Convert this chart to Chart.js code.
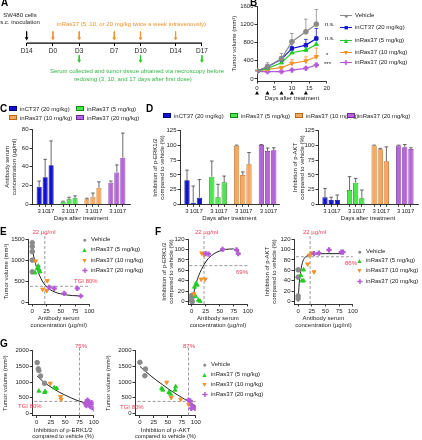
<!DOCTYPE html>
<html>
<head>
<meta charset="utf-8">
<script src="https://cdn.jsdelivr.net/npm/chart.js@4.4.0/dist/chart.umd.min.js"></script>
<style>
  body { margin: 0; width: 422px; height: 440px; overflow: hidden; background: #fff; position: relative;
         font-family: "Liberation Sans", Arial, sans-serif; font-size: 6px; color: #222; }
  canvas { position: absolute; }
  .t { position: absolute; white-space: nowrap; line-height: 7px; height: 7px; }
  .letter { position: absolute; font-weight: bold; font-size: 10px; line-height: 10px; color: #000; }
  .mk { display: inline-block; vertical-align: middle; text-align: center; margin-right: 3px; }
</style>
</head>
<body>
<script>
// ---------- data ----------
// A: study timeline
const timelineDays = [-3, 0, 3, 7, 10, 14, 17];
const timelineLabels = ['D14', 'D0', 'D3', 'D7', 'D10', 'D14', 'D17'];
const doseDays = [0, 3, 7, 10, 14];
const sampleDays = [3, 10, 17];

// B: tumor growth
const bDays = [0, 3, 7, 10, 14, 17];
const bVehicle = [175, 270, 445, 818, 1037, 1205];
const bVehicleErr = [15, 87, 118, 183, 278, 322];
const bInCT37 = [175, 270, 431, 672, 745, 891];
const bInCT37Err = [15, 20, 58, 154, 125, 220];
const bRas5 = [175, 234, 358, 577, 636, 760];
const bRas5Err = [15, 20, 40, 60, 65, 110];
const bRas10 = [175, 212, 248, 343, 395, 489];
const bRas10Err = [15, 15, 30, 80, 90, 190];
const bRas20 = [160, 160, 160, 197, 234, 307];
const bRas20Err = [10, 10, 15, 25, 30, 40];

// C / D: bars by group and day
const groups = ['inCT37 (20 mg/kg)', 'inRas37 (5 mg/kg)', 'inRas37 (10 mg/kg)', 'inRas37 (20 mg/kg)'];
const dayLabels = ['3', '10', '17'];
const cSerum = [[18.8, 28.8, 41.6], [2.8, 5.3, 6.4], [5.5, 8.1, 17.7], [23, 34, 49.7]];
const cSerumErr = [[6, 19.2, 26], [0.5, 2.2, 2.6], [1, 3.9, 6.3], [1.8, 8, 26.3]];
const dErk = [[40.8, 2.7, 11.2], [47, 11.8, 37.3], [99.5, 49.8, 67.9], [100.7, 90.5, 92]];
const dErkErr = [[17.2, 28.3, 30.8], [26.5, 22.2, 10.7], [1, 5.2, 20.1], [0.8, 5.1, 4]];
const dAkt = [[11.8, 7.3, 7.3], [24.3, 36.7, 10.2], [99.8, 93.4, 73], [100, 96.8, 94]];
const dAktErr = [[15.2, 4.7, 8.5], [22.7, 7.3, 14.1], [0.7, 1.6, 24.6], [0.5, 4.7, 2]];

// E: tumor volume vs serum concentration
const eVehicle = [[0, 1410], [0, 1320], [0, 1200], [0, 1000], [0, 720]];
const eRas5 = [[4.7, 700], [8.8, 805], [11.7, 780], [10.5, 860], [13.5, 726]];
const eRas10 = [[5.7, 980], [26.3, 512], [18.2, 308], [25.3, 275]];
const eRas20 = [[29.8, 355], [38.6, 332], [56, 213], [79, 332], [85, 150]];
const eFit = [[0, 1250], [5, 950], [10, 730], [15, 570], [20, 450], [25, 370], [30, 310], [40, 240], [50, 200], [60, 175], [70, 160], [85, 150]];

// F: pathway inhibition vs serum concentration
const fErkVehicle = [[0, 12], [0, 6], [0, 2], [1, 0]];
const fErkRas5 = [[5, 28], [8, 35], [10, 32], [7, 10], [12, 3], [15, 1]];
const fErkRas10 = [[18, 93], [22, 90], [17, 43], [24, 43], [4, 15]];
const fErkRas20 = [[25, 92], [30, 91], [55, 100], [80, 99], [83, 92]];
const fErkFit = [[0, 0], [5, 22], [10, 42], [15, 56], [20, 67], [25, 76], [30, 83], [40, 92], [50, 97], [60, 100], [75, 101]];
const fAktVehicle = [[0, 61], [0, 47], [0, 11], [0, 6]];
const fAktRas5 = [[10, 61], [5, 50], [7, 40], [10, 40]];
const fAktRas10 = [[17.5, 72], [20.5, 89], [24.5, 93], [29, 57]];
const fAktRas20 = [[29, 92], [38, 93], [56.5, 99], [79, 95], [82, 95]];
const fAktFit = [[0, 0], [2, 35], [5, 60], [8, 75], [12, 84], [17, 88], [22, 90], [30, 91], [50, 92], [80, 92]];

// G: tumor volume vs pathway inhibition
const gErkVehicle = [[1, 1620], [3, 1420], [4, 1370], [7, 1190], [14, 960]];
const gErkRas5 = [[4, 713], [14, 670], [15, 700], [31, 819], [35, 798]];
const gErkRas10 = [[24, 957], [42, 532], [43, 447]];
const gErkRas20 = [[85, 320], [89, 425], [91, 320], [94, 213], [100, 140], [87, 245], [96, 340]];
const gErkFit = [[1, 1190], [10, 1040], [20, 900], [30, 780], [40, 670], [50, 580], [60, 495], [75, 385], [90, 310], [100, 265]];
const gAktVehicle = [[0, 1628], [10, 1415], [9, 1200]];
const gAktRas5 = [[39, 798], [41, 745], [52, 670], [55, 617], [64, 851], [63, 745]];
const gAktRas10 = [[48, 990], [56, 500], [73, 447], [87, 287], [90, 372]];
const gAktRas20 = [[87, 425], [90, 394], [93, 266], [96, 191], [99, 160], [92, 160]];
const gAktFit = [[0, 1500], [10, 1340], [20, 1190], [30, 1050], [40, 920], [50, 790], [60, 670], [70, 560], [80, 450], [90, 340], [100, 230]];

// ---------- style ----------
const GRAY = '#8a8a8a', BLUE = '#1414d0', GREEN = '#26cc26', ORANGE = '#f3922a', PURPLE = '#b45ad8', RED = '#ee4058';
const barFill = ['#1010d0', '#4be84b', '#f6a85c', '#b466da'];
const barEdge = ['#00007a', '#138a13', '#c0661a', '#74289c'];
const FS = 6;

Chart.defaults.font.family = '"Liberation Sans", Arial, sans-serif';
Chart.defaults.font.size = FS;
Chart.defaults.color = '#222';
Chart.defaults.animation = false;
Chart.defaults.plugins.legend.display = false;
Chart.defaults.plugins.tooltip.enabled = false;

const toXY = arr => arr.map(([x, y]) => ({ x, y }));

// error bars (upper only) drawn through the y scale
const errorBars = {
  id: 'errorBars',
  beforeDatasetsDraw(chart) {
    const { ctx } = chart, y = chart.scales.y;
    chart.data.datasets.forEach((ds, i) => {
      if (!ds.errors) return;
      ctx.save();
      ctx.strokeStyle = ds.errorColor || '#333';
      ctx.lineWidth = 0.8;
      chart.getDatasetMeta(i).data.forEach((p, j) => {
        const e = ds.errors[j];
        if (!e) return;
        const top = y.getPixelForValue(ds.data[j].y + e);
        ctx.beginPath();
        ctx.moveTo(p.x, p.y); ctx.lineTo(p.x, top);
        ctx.moveTo(p.x - 1.8, top); ctx.lineTo(p.x + 1.8, top);
        ctx.stroke();
      });
      ctx.restore();
    });
  }
};

// dosing triangles under the x axis of B
const doseMarks = {
  id: 'doseMarks',
  afterDraw(chart, args, opts) {
    if (!opts.days) return;
    const { ctx } = chart, x = chart.scales.x, yy = chart.chartArea.bottom + opts.offset;
    ctx.save();
    ctx.fillStyle = '#000';
    opts.days.forEach(d => {
      const px = x.getPixelForValue(d);
      ctx.beginPath();
      ctx.moveTo(px, yy - 2); ctx.lineTo(px + 2, yy + 1.5); ctx.lineTo(px - 2, yy + 1.5);
      ctx.fill();
    });
    ctx.restore();
  }
};

function makeChart(box, area, config) {
  const [L, T, W, H] = box, [l, t, r, b] = area;
  const cv = document.createElement('canvas');
  cv.width = W; cv.height = H;
  cv.style.left = L + 'px'; cv.style.top = T + 'px';
  cv.style.width = W + 'px'; cv.style.height = H + 'px';
  document.body.appendChild(cv);
  config.options.responsive = false;
  config.options.layout = { padding: { left: 0, top: t - T, right: L + W - r, bottom: 0 } };
  const sx = config.options.scales.x, sy = config.options.scales.y;
  sx.afterFit = s => { s.height = T + H - b; s.paddingLeft = 0; s.paddingRight = 0; };
  sy.afterFit = s => { s.width = l - L; s.paddingTop = 0; s.paddingBottom = 0; };
  return new Chart(cv, config);
}

function axis(min, max, ticks, title, titlePad, extra) {
  return Object.assign({
    type: 'linear', min, max, offset: false,
    afterBuildTicks: s => { s.ticks = ticks.map(v => ({ value: v })); },
    grid: { display: true, offset: false, drawOnChartArea: false, drawTicks: true, tickLength: 2.5, color: '#000', lineWidth: 0.8 },
    border: { display: true, color: '#000', width: 0.8 },
    ticks: { padding: 1, color: '#222', font: { size: FS }, autoSkip: false, maxRotation: 0, callback: v => String(v) },
    title: { display: !!title, text: title, padding: titlePad, font: { size: FS, lineHeight: 1.1 }, color: '#222' }
  }, extra || {});
}

// ---------- HTML text helpers ----------
function txt(x, y, s, color, align, size) {
  const d = document.createElement('div');
  d.className = 't';
  d.textContent = s;
  d.style.top = (y - 3.5) + 'px';
  if (color) d.style.color = color;
  if (size) d.style.fontSize = size + 'px';
  if (align === 'c') { d.style.left = (x - 100) + 'px'; d.style.width = '200px'; d.style.textAlign = 'center'; }
  else if (align === 'r') { d.style.right = (422 - x) + 'px'; }
  else d.style.left = x + 'px';
  document.body.appendChild(d);
  return d;
}
function letter(x, y, s) {
  const d = document.createElement('div');
  d.className = 'letter'; d.textContent = s;
  d.style.left = x + 'px'; d.style.top = y + 'px';
  document.body.appendChild(d);
}
const glyphs = { circle: '\u25CF', tri: '\u25B2', down: '\u25BC', plus: '\u271A', square: '\u25A0' };
function markerHTML(shape, color, withLine) {
  const line = withLine ? `background:linear-gradient(${color},${color}) center/100% 1px no-repeat;` : '';
  return `<span class="mk" style="width:${withLine ? 12 : 7}px;${line}color:${color};font-size:7px;line-height:7px">${glyphs[shape]}</span>`;
}
function barMarkerHTML(i) {
  return `<span class="mk" style="width:6px;height:3px;background:${barFill[i]};border:1px solid ${barEdge[i]}"></span>`;
}
function legendRow(x, y, html) {
  const d = document.createElement('div');
  d.className = 't';
  d.style.left = x + 'px'; d.style.top = (y - 3.5) + 'px';
  d.innerHTML = html;
  document.body.appendChild(d);
}

// ---------- Panel A: timeline ----------
const arrow = (x, y0, y1, color) => ({
  type: 'line', data: [{ x, y: y0 }, { x, y: y1 }], borderColor: color, borderWidth: 1,
  pointRadius: [0, 2.2], pointStyle: 'triangle', rotation: 180, pointBackgroundColor: color, pointBorderWidth: 0
});
makeChart([0, 0, 230, 95], [0, 0, 230, 95], {
  type: 'line',
  data: {
    datasets: [
      { data: [{ x: timelineDays[0], y: 42.7 }, { x: timelineDays[timelineDays.length - 1], y: 42.7 }], borderColor: '#000', borderWidth: 1.2, pointRadius: 0 },
      arrow(timelineDays[0], 30, 37.5, '#000'),
      ...doseDays.map(d => arrow(d, 30, 37.5, ORANGE)),
      ...sampleDays.map(d => arrow(d, 56, 62, GREEN))
    ]
  },
  options: {
    scales: {
      x: {
        type: 'linear', min: -5.58, max: 19.75, position: { y: 42.7 },
        afterBuildTicks: s => { s.ticks = timelineDays.map(v => ({ value: v })); },
        grid: { display: true, drawOnChartArea: false, drawTicks: true, tickLength: 3, color: '#000', lineWidth: 1 },
        border: { display: false },
        ticks: { padding: 1, color: '#222', font: { size: 6.5 }, autoSkip: false, maxRotation: 0, callback: (v, i) => timelineLabels[i] }
      },
      y: { type: 'linear', display: false, min: 0, max: 95, reverse: true }
    }
  }
});
txt(20, 15, 'SW480 cells', '#222', 'c', 6);
txt(20, 22, 's.c. inoculation', '#222', 'c', 6);
txt(57, 24.5, 'inRas37 (5, 10, or 20 mg/kg twice a week intravenously)', ORANGE, null, 6);
txt(137, 71, 'Serum collected and tumor tissue obtained via necroscopy before', '#33b545', 'c', 6);
txt(133, 79, 'redosing (3, 10, and 17 days after first dose)', '#33b545', 'c', 6);

// ---------- Panel B: tumor growth ----------
const bSeries = [
  { d: bVehicle, e: bVehicleErr, c: GRAY, s: 'circle', r: 0 },
  { d: bInCT37, e: bInCT37Err, c: BLUE, s: 'rect', r: 0 },
  { d: bRas5, e: bRas5Err, c: GREEN, s: 'triangle', r: 0 },
  { d: bRas10, e: bRas10Err, c: ORANGE, s: 'triangle', r: 180 },
  { d: bRas20, e: bRas20Err, c: PURPLE, s: 'cross', r: 0 }
];
makeChart([215, 0, 118, 105], [257, 6, 329, 81], {
  type: 'line',
  data: {
    datasets: bSeries.map(o => ({
      data: bDays.map((d, j) => ({ x: d, y: o.d[j] })), errors: o.e, errorColor: o.c,
      borderColor: o.c, backgroundColor: o.c, borderWidth: 1.2, pointStyle: o.s, rotation: o.r,
      pointRadius: o.s === 'cross' ? 2.6 : 2.4, pointBorderWidth: o.s === 'cross' ? 2.2 : 1, pointBackgroundColor: o.c, pointBorderColor: o.c
    }))
  },
  options: {
    plugins: { doseMarks: { days: doseDays, offset: 12 } },
    scales: {
      x: axis(0, 20, [0, 5, 10, 15, 20], 'Days after treatment', { bottom: 3 }),
      y: axis(-44, 1600, [0, 400, 800, 1200, 1600], 'Tumor volume (mm\u00B3)', { top: 16 })
    }
  },
  plugins: [errorBars, doseMarks]
});
txt(325, 24, 'n.s.');
txt(325, 38.3, 'n.s.');
txt(326, 55, '*');
txt(324, 64, '***');
const bLegendShapes = ['circle', 'square', 'tri', 'down', 'plus'];
const bLegendNames = ['Vehicle', 'inCT37 (20 mg/kg)', 'inRas37 (5 mg/kg)', 'inRas37 (10 mg/kg)', 'inRas37 (20 mg/kg)'];
[15, 27, 40, 52, 62.5].forEach((y, i) => legendRow(340, y, markerHTML(bLegendShapes[i], bSeries[i].c, true) + bLegendNames[i]));

// ---------- Panels C / D: bars ----------
function barSets(vals, errs) {
  return vals.map((v, g) => ({
    type: 'bar', grouped: false, barPercentage: 0.85, categoryPercentage: 1,
    data: v.map((y, j) => ({ x: g * 4 + j, y })), errors: errs[g], errorColor: '#444',
    backgroundColor: barFill[g], borderColor: barEdge[g], borderWidth: 0.8
  }));
}
const slotTicks = [0, 1, 2, 4, 5, 6, 8, 9, 10, 12, 13, 14];
function barX(min, max) {
  return axis(min, max, slotTicks, 'Days after treatment', { bottom: 2.5 }, {
    ticks: { padding: 1, color: '#222', font: { size: FS }, autoSkip: false, maxRotation: 0, callback: v => dayLabels[v % 4] }
  });
}
makeChart([0, 120, 135, 104], [32, 129.3, 130, 204.3], {
  type: 'bar',
  data: { datasets: barSets(cSerum, cSerumErr) },
  options: { scales: { x: barX(-1.2, 15.2), y: axis(0, 80, [0, 20, 40, 60, 80], ['Antibody serum', 'concentration (\u00B5g/ml)'], { top: 4 }) } },
  plugins: [errorBars]
});
makeChart([140, 120, 142, 104], [180, 130.7, 279, 204.3], {
  type: 'bar',
  data: { datasets: barSets(dErk, dErkErr) },
  options: { scales: { x: barX(-1.13, 14.84), y: axis(0, 125, [0, 25, 50, 75, 100, 125], ['Inhibition of p-ERK1/2', 'compared to vehicle (%)'], { top: 12 }) } },
  plugins: [errorBars]
});
makeChart([283, 120, 139, 104], [318, 130.7, 418, 204.3], {
  type: 'bar',
  data: { datasets: barSets(dAkt, dAktErr) },
  options: { scales: { x: barX(-1.14, 15.15), y: axis(0, 125, [0, 25, 50, 75, 100, 125], ['Inhibition of p-AKT', 'compared to vehicle (%)'], { top: 9 }) } },
  plugins: [errorBars]
});
legendRow(9, 109, barMarkerHTML(0) + groups[0]);
legendRow(76, 109, barMarkerHTML(1) + groups[1]);
legendRow(9, 118, barMarkerHTML(2) + groups[2]);
legendRow(76, 118, barMarkerHTML(3) + groups[3]);
[163, 230, 295, 347].forEach((x, i) => legendRow(x, 116, barMarkerHTML(i) + groups[i]));

// ---------- Panels E / F / G: scatter with fits ----------
function scatterSets(veh, r5, r10, r20, fit, dashed) {
  const pts = (d, c, s, rot, extra) => Object.assign({
    type: 'scatter', data: toXY(d), pointStyle: s, rotation: rot, pointRadius: 2.3,
    backgroundColor: c, borderColor: c, pointBorderWidth: 1
  }, extra || {});
  return [
    pts(r20, PURPLE, 'cross', 0, { pointRadius: 2.6, pointBorderWidth: 2.2 }),
    pts(r10, ORANGE, 'triangle', 180),
    pts(r5, GREEN, 'triangle', 0),
    pts(veh, GRAY, 'circle', 0),
    { type: 'line', data: toXY(fit), borderColor: '#222', borderWidth: 1, pointRadius: 0, cubicInterpolationMode: 'monotone' },
    ...dashed.map(seg => ({ type: 'line', data: toXY(seg), borderColor: '#9a9a9a', borderWidth: 1, borderDash: [3, 2], pointRadius: 0, clip: false }))
  ];
}
const concTicks = [0, 25, 50, 75, 100];
const concTitle = ['Antibody serum', 'concentration (\u00B5g/ml)'];
makeChart([0, 228, 100, 105], [28, 239, 89.3, 304], {
  type: 'scatter',
  data: { datasets: scatterSets(eVehicle, eRas5, eRas10, eRas20, eFit, [[[22, -40], [22, 1590]], [[-4, 380], [100, 380]]]) },
  options: { scales: { x: axis(-7.5, 100, concTicks, concTitle, { bottom: 4.5 }), y: axis(-40, 1500, [0, 500, 1000, 1500], 'Tumor volume (mm\u00B3)', { top: 3 }) } }
});
makeChart([150, 228, 104, 105], [188, 239, 248.7, 304], {
  type: 'scatter',
  data: { datasets: scatterSets(fErkVehicle, fErkRas5, fErkRas10, fErkRas20, fErkFit, [[[22, -4.4], [22, 127]], [[-4, 69], [100, 69]]]) },
  options: { scales: { x: axis(-6.5, 100, concTicks, concTitle, { bottom: 4.5 }), y: axis(-4.4, 120, [0, 20, 40, 60, 80, 100, 120], ['Inhibition of p-ERK1/2', 'compared to vehicle (%)'], { top: 11 }) } }
});
makeChart([255, 228, 104, 105], [294, 239, 355.7, 304], {
  type: 'scatter',
  data: { datasets: scatterSets(fAktVehicle, fAktRas5, fAktRas10, fAktRas20, fAktFit, [[[22, -4.4], [22, 127]], [[-4, 86], [100, 86]]]) },
  options: { scales: { x: axis(-7.5, 100, concTicks, concTitle, { bottom: 4.5 }), y: axis(-4.4, 120, [0, 20, 40, 60, 80, 100, 120], ['Inhibition of p-AKT', 'compared to vehicle (%)'], { top: 9 }) } }
});
const pctTicks = [0, 25, 50, 75, 100];
const volTicks = [0, 500, 1000, 1500, 2000];
makeChart([0, 340, 100, 100], [32.3, 350.7, 95, 415.5], {
  type: 'scatter',
  data: { datasets: scatterSets(gErkVehicle, gErkRas5, gErkRas10, gErkRas20, gErkFit, [[[75, -70], [75, 2100]], [[-4, 380], [100, 380]]]) },
  options: { scales: { x: axis(-7.5, 100, pctTicks, ['Inhibition of p-ERK1/2', 'compared to vehicle (%)'], { bottom: 0 }), y: axis(-70, 2000, volTicks, 'Tumor volume (mm\u00B3)', { top: 2 }) } }
});
makeChart([100, 340, 102, 100], [135, 350.7, 197.3, 415.5], {
  type: 'scatter',
  data: { datasets: scatterSets(gAktVehicle, gAktRas5, gAktRas10, gAktRas20, gAktFit, [[[87, -70], [87, 2100]], [[-4, 380], [100, 380]]]) },
  options: { scales: { x: axis(-8.7, 100, pctTicks, ['Inhibition of p-AKT', 'compared to vehicle (%)'], { bottom: 0 }), y: axis(-70, 2000, volTicks, 'Tumor volume (mm\u00B3)', { top: 5.5 }) } }
});

// annotations
txt(44, 232, '22 \u00B5g/ml', RED, 'c');
txt(74, 281, 'TGI 80%', RED);
txt(195, 232, '22 \u00B5g/ml', RED);
txt(236, 272.7, '69%', RED);
txt(303, 232, '22 \u00B5g/ml', RED);
txt(345, 263.3, '86%', RED);
txt(75, 346.7, '75%', RED);
txt(18, 406.7, 'TGI 80%', RED);
txt(183, 346.7, '87%', RED);
txt(120, 407, 'TGI 80%', RED);

// scatter legends
const sNames = ['Vehicle', 'inRas37 (5 mg/kg)', 'inRas37 (10 mg/kg)', 'inRas37 (20 mg/kg)'];
const sShapes = ['circle', 'tri', 'down', 'plus'];
const sColors = [GRAY, GREEN, ORANGE, PURPLE];
[239, 249.3, 260, 270].forEach((y, i) => legendRow(81, y, markerHTML(sShapes[i], sColors[i]) + sNames[i]));
[251, 260.5, 270.7, 281].forEach((y, i) => legendRow(356, y, markerHTML(sShapes[i], sColors[i]) + sNames[i]));
[364.3, 374.3, 384.3, 394.3].forEach((y, i) => legendRow(201, y, markerHTML(sShapes[i], sColors[i]) + sNames[i]));

letter(1, -2, 'A'); letter(250, -2, 'B'); letter(0, 104, 'C'); letter(146, 104, 'D');
letter(0, 227, 'E'); letter(155, 227, 'F'); letter(0, 339, 'G');
</script>
</body>
</html>
